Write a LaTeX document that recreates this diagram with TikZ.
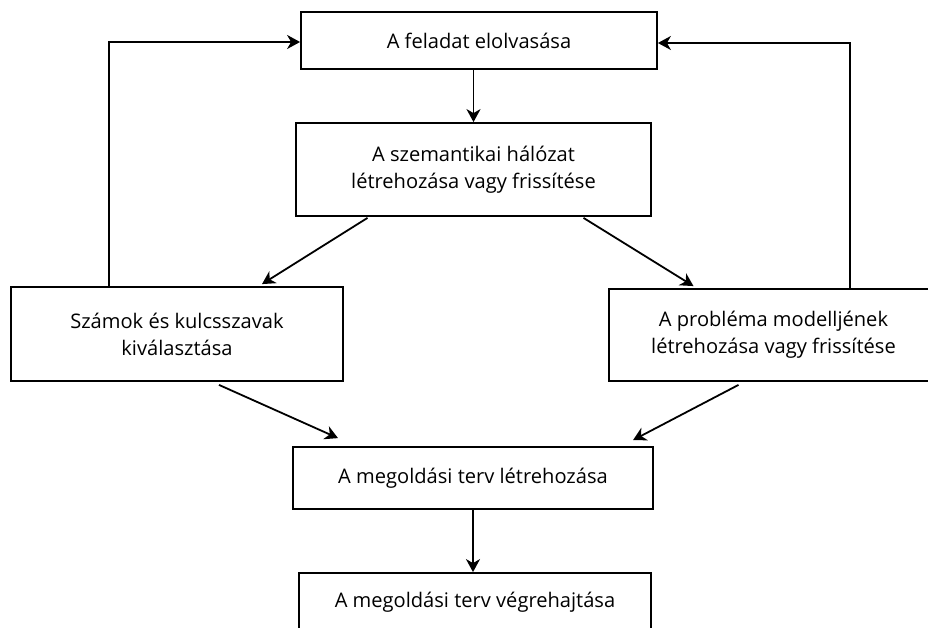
\documentclass[tikz,border=0pt]{standalone}
\usepackage{fontspec}
\setmainfont{Open Sans}
\usetikzlibrary{arrows.meta,calc}
\begin{document}
\begin{tikzpicture}[x=1pt,y=-1pt,
  box/.style={draw, line width=1.8pt, align=center, inner sep=0pt,
    font=\fontsize{20.1}{27}\selectfont},
  conn/.style={line width=1.8pt, -{Stealth[length=13pt,width=14pt,inset=4pt]}}]
\useasboundingbox (0,0) rectangle (928,628);
\clip (0,0) rectangle (928,628);
\node[box, minimum width=356pt, minimum height=57pt] (read) at (479,40.5) {A feladat elolvasása};
\node[box, minimum width=355pt, minimum height=93pt] (sem) at (473.5,169.5) {A szemantikai hálózat\\létrehozása vagy frissítése};
\node[box, minimum width=332pt, minimum height=94pt] (num) at (177,334) {Számok és kulcsszavak\\kiválasztása};
\node[box, minimum width=329pt, minimum height=92pt] (model) at (773.5,335) {A probléma modelljének\\létrehozása vagy frissítése};
\node[box, minimum width=360pt, minimum height=62pt] (plan) at (473,478) {A megoldási terv létrehozása};
\node[box, minimum width=352pt, minimum height=62pt, text depth=0pt] (exec) at (475,604) {\raisebox{8pt}{A megoldási terv végrehajtása}};
% connectors
\draw[conn] (sem.north |- read.south) -- (sem.north);
\draw[conn] ($(sem.south)+(-106,1)$) -- ($(num.north)+(85,-2)$);
\draw[conn] ($(sem.south)+(110,1)$) -- ($(model.north)+(-80,-2)$);
\draw[conn] ($(num.south)+(42,3)$) -- ($(plan.north)+(-135,-8)$);
\draw[conn] ($(model.south)+(-35,3)$) -- ($(plan.north)+(160,-6)$);
\draw[conn] (plan.south) -- (plan.south |- exec.north);
\draw[conn] (num.north -| 109,0) -- (109,42) -- (read.west |- 0,42);
\draw[conn] (model.north -| 850,0) -- (850,43) -- (read.east |- 0,43);
\end{tikzpicture}
\end{document}
